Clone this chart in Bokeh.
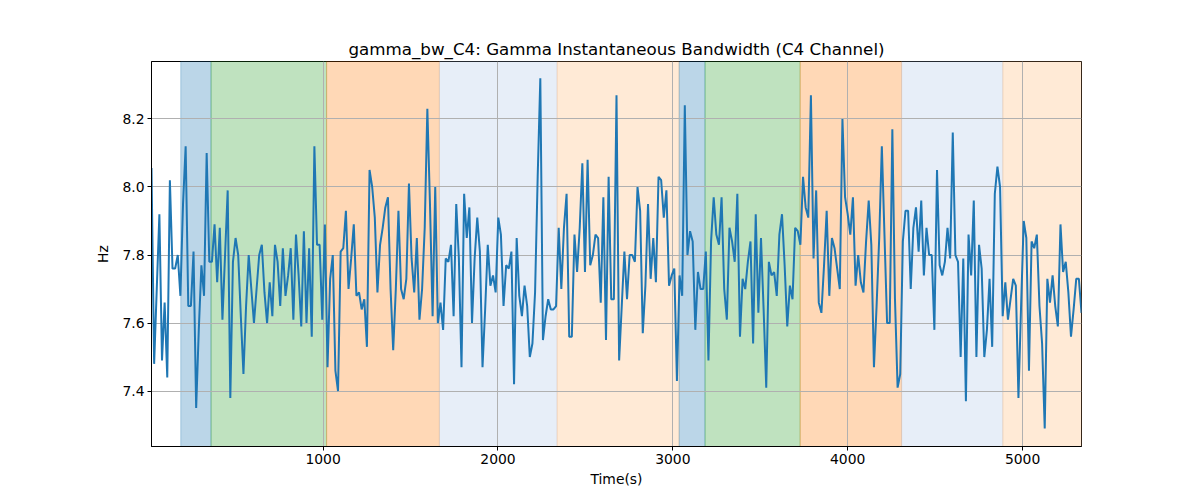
import numpy as np
from bokeh.plotting import figure
from bokeh.models import Range1d, FixedTicker, ColumnDataSource, PrintfTickFormatter
from bokeh.embed import file_html
from bokeh.resources import INLINE

# ---- data ----
t_start = 18.6
t_end = 5337.0
bandwidth_hz = [
    8.056, 7.48, 7.70, 7.92, 7.49, 7.66, 7.44, 8.02, 7.76, 7.76, 7.80, 7.68, 7.95, 8.12, 7.65,
    7.65, 7.81, 7.35, 7.58, 7.77, 7.68, 8.10, 7.78, 7.78, 7.89, 7.72, 7.88, 7.61, 7.80, 7.99,
    7.38, 7.78, 7.85, 7.80, 7.62, 7.45, 7.65, 7.80, 7.70, 7.60, 7.70, 7.80, 7.83, 7.69, 7.60,
    # segment B
    7.72, 7.62, 7.83, 7.78, 7.65, 7.82, 7.68, 7.74, 7.82, 7.61, 7.86, 7.74, 7.59, 7.87, 7.60,
    7.82, 7.56, 8.12, 7.83, 7.83, 7.61, 7.89, 7.47, 7.73, 7.80, 7.46, 7.40, 7.81, 7.82, 7.93,
    7.70, 7.79, 7.89, 7.68, 7.69, 7.64, 7.67, 7.53, 8.05, 8.00, 7.91, 7.69, 7.83, 7.88,
    # segment C
    7.94, 7.97, 7.70, 7.52, 7.70, 7.93, 7.70, 7.67, 7.73, 8.01, 7.79, 7.69, 7.85, 7.61, 7.70,
    7.88, 8.23, 7.95, 7.62, 8.00, 7.60, 7.66, 7.58, 7.79, 7.78, 7.83, 7.62, 7.95, 7.79, 7.47,
    7.98, 7.85, 7.94, 7.60, 7.79, 7.91, 7.81, 7.47, 7.64, 7.83, 7.71, 7.74, 7.69, 7.91,
    # segment D
    7.86, 7.65, 7.77, 7.76, 7.81, 7.42, 7.85, 7.68, 7.62, 7.71, 7.65, 7.50, 7.54, 7.69, 8.03,
    8.32, 7.55, 7.62, 7.67, 7.64, 7.64, 7.65, 7.88, 7.70, 7.88, 7.98, 7.56, 7.56, 7.86, 7.75,
    7.88, 8.07, 7.75, 8.08, 7.77, 7.80, 7.86, 7.85, 7.66, 7.97, 7.55, 8.03, 7.67, 7.67,
    # segment E
    8.27, 7.49, 7.65, 7.81, 7.67, 7.80, 7.80, 7.78, 8.00, 7.93, 7.57, 7.71, 7.95, 7.73, 7.85,
    7.72, 8.03, 8.02, 7.91, 7.99, 7.71, 7.74, 7.76, 7.43, 7.74, 7.68, 8.24, 7.80, 7.87, 7.84,
    7.58, 7.75, 7.70, 7.70, 7.81, 7.49, 7.84, 7.97, 7.86, 7.83, 7.97, 7.70, 7.61, 7.88, 7.84,
    # segment F
    7.78, 7.98, 7.56, 7.73, 7.70, 7.78, 7.84, 7.54, 7.92, 7.63, 7.85, 7.64, 7.41, 7.78, 7.74,
    7.75, 7.68, 7.86, 7.92, 7.77, 7.59, 7.71, 7.67, 7.88, 7.87, 7.83, 8.03, 7.94, 7.91, 8.27,
    7.79, 7.99, 7.66, 7.63, 7.77, 7.93, 7.68, 7.85, 7.82, 7.76, 7.70, 8.20, 7.97, 7.92,
    # segment G
    7.86, 7.97, 7.71, 7.80, 7.72, 7.69, 7.84, 7.96, 7.83, 7.47, 7.65, 7.85, 8.12, 7.86, 7.60,
    7.60, 8.17, 7.67, 7.41, 7.45, 7.84, 7.93, 7.93, 7.70, 7.88, 7.94, 7.81, 7.96, 7.74, 7.88,
    7.80, 7.80, 7.58, 8.05, 7.77, 7.74, 7.78, 7.88, 7.79, 8.16, 7.80, 7.78, 7.50, 7.79,
    # segment H
    7.37, 7.86, 7.74, 7.96, 7.50, 7.83, 7.76, 7.50, 7.58, 7.73, 7.53, 7.98, 8.06, 8.00, 7.62,
    7.72, 7.61, 7.67, 7.73, 7.71, 7.38, 7.65, 7.90, 7.85, 7.46, 7.84, 7.82, 7.86, 7.65, 7.54,
    7.29, 7.73, 7.66, 7.74, 7.65, 7.59, 7.89, 7.75, 7.78, 7.69, 7.56, 7.64, 7.73, 7.73, 7.63,
]
time_s = np.linspace(t_start, t_end, len(bandwidth_hz))

region_starts = [186, 359, 1020, 1665, 2338, 3036, 3184, 3728, 4308, 4887]
region_ends = [359, 1020, 1665, 2338, 3036, 3184, 3728, 4308, 4887, 5337]
region_colors = ["#1f77b4", "#2ca02c", "#ff7f0e", "#aec7e8", "#ffbb78",
                 "#1f77b4", "#2ca02c", "#ff7f0e", "#aec7e8", "#ffbb78"]

x_ticks = [1000, 2000, 3000, 4000, 5000]
y_ticks = [7.4, 7.6, 7.8, 8.0, 8.2]
y_min, y_max = 7.237, 8.369

title_text = "gamma_bw_C4: Gamma Instantaneous Bandwidth (C4 Channel)"
FONT = "DejaVu Sans"

p = figure(
    frame_width=930, frame_height=385,
    min_border_left=151, min_border_right=119, min_border_top=61, min_border_bottom=54,
    output_backend="svg", toolbar_location=None,
    x_range=Range1d(t_start, t_end), y_range=Range1d(y_min, y_max),
    title=title_text,
)
p.background_fill_color = "white"
p.border_fill_color = "white"
p.outline_line_color = "black"
p.outline_line_width = 1

p.title.align = "center"
p.title.text_font = FONT
p.title.text_font_style = "normal"
p.title.text_font_size = "16.7px"
p.title.text_color = "black"
p.title.standoff = 6

src = ColumnDataSource(dict(left=region_starts, right=region_ends,
                            bottom=[y_min] * len(region_starts),
                            top=[y_max] * len(region_starts),
                            color=region_colors))
p.quad(left="left", right="right", bottom="bottom", top="top", source=src,
       fill_color="color", fill_alpha=0.3, line_color="color", line_alpha=0.3,
       line_width=1, level="image")

p.line(time_s, bandwidth_hz, line_color="#1f77b4", line_width=2)

for ax in (p.xaxis[0], p.yaxis[0]):
    ax.major_label_text_font = FONT
    ax.major_label_text_font_size = "13.9px"
    ax.major_label_text_color = "black"
    ax.axis_label_text_font = FONT
    ax.axis_label_text_font_size = "13.9px"
    ax.axis_label_text_font_style = "normal"
    ax.axis_label_text_color = "black"
    ax.major_tick_in = 0
    ax.major_tick_out = 4
    ax.minor_tick_line_color = None
    ax.major_tick_line_color = "black"
    ax.axis_line_color = "black"
    ax.major_label_standoff = 3

p.xaxis.ticker = FixedTicker(ticks=x_ticks)
p.yaxis.ticker = FixedTicker(ticks=y_ticks)
p.yaxis.formatter = PrintfTickFormatter(format="%.1f")
p.xaxis.axis_label = "Time(s)"
p.yaxis.axis_label = "Hz"
p.xaxis.axis_label_standoff = 4
p.yaxis.axis_label_standoff = 8
p.yaxis.major_label_orientation = "horizontal"

p.grid.grid_line_color = "#b0b0b0"
p.grid.grid_line_width = 1

open("out.html", "w").write(file_html(p, INLINE))
